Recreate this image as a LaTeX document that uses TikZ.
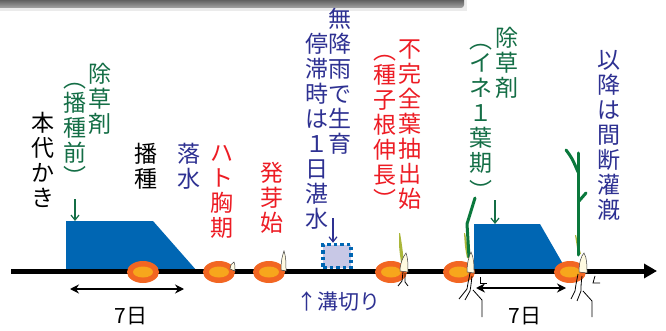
\documentclass[tikz,border=0pt]{standalone}
\usepackage{fontspec}
\usetikzlibrary{arrows.meta}
\newfontfamily\jpfont{Noto Sans CJK JP}

\definecolor{riceblue}{RGB}{0,102,179}
\definecolor{txtgreen}{RGB}{20,110,70}
\definecolor{txtnavy}{RGB}{46,49,146}
\definecolor{txtred}{RGB}{237,28,36}
\definecolor{seedout}{RGB}{242,102,34}
\definecolor{seedin}{RGB}{247,166,28}
\definecolor{leafgreen}{RGB}{10,120,60}
\definecolor{leafolive}{RGB}{170,182,58}
\definecolor{sheath}{RGB}{255,250,225}
\definecolor{pondfill}{RGB}{200,200,230}

\tikzset{
  vtext/.style={inner sep=0pt, align=center, anchor=north,
    font={\jpfont\fontsize{23}{25}\selectfont}},
  vparen/.style={inner sep=0pt, font={\jpfont\fontsize{23}{25}\selectfont}},
  htext/.style={inner sep=0pt, font={\jpfont\fontsize{21}{24}\selectfont}},
  pointer/.style={line width=1.2pt, -{Straight Barb[length=5pt,width=8pt]}},
  span/.style={line width=2.5pt, {Stealth[length=9pt,width=9pt]}-{Stealth[length=9pt,width=9pt]}},
  flood/.style={fill=riceblue},
  sheathsty/.style={fill=sheath, draw=black!75, line width=0.5pt},
  olive/.style={fill=leafolive},
  leaf/.style={draw=leafgreen, line width=3pt, line cap=round, line join=round},
  root/.style={draw=black, line width=0.8pt},
}

\newcommand{\seed}[2]{%
  \fill[seedout] (#1,#2) ellipse [x radius=16, y radius=11];
  \fill[seedin] (#1,#2) ellipse [x radius=10, y radius=5.5];
}

\begin{document}
\begin{tikzpicture}[x=1pt,y=-1pt]
\useasboundingbox (0,0) rectangle (666,331);
\fill[white] (0,0) rectangle (666,331);

% header strip
\fill[black!8] (0,0) rectangle (467,11);
\shade[top color=black!62, bottom color=black!35] (0,0) -- (464,0) -- (464,5) arc[start angle=0, end angle=90, radius=3] -- (461,8) -- (0,8) -- cycle;

% flooded periods
\fill[flood] (66,221) -- (153,221) -- (197,271) -- (66,271) -- cycle;
\fill[flood] (474,224) -- (540,224) -- (567,271) -- (474,271) -- cycle;

% time axis
\coordinate (tl-start) at (11,271);
\coordinate (tl-end) at (657,271);
\draw[line width=5pt, -{Triangle[length=13pt,width=14pt]}] (tl-start) -- (tl-end);

% temporary flooding pond
\node[draw=riceblue, fill=pondfill, line width=3.5pt, dash pattern=on 3.5pt off 3pt,
      minimum width=28pt, minimum height=23pt, inner sep=0pt] (pond) at (337,256) {};

% seeds
\seed{143}{272}
\seed{219}{272}
\seed{269}{272}
\seed{391}{272}
\seed{459}{272}
\seed{570}{272}

% sprout tips
\filldraw[sheathsty] (230,269) .. controls (231,264) .. (234,262) .. controls (235,265) .. (235,271) -- cycle;
\filldraw[sheathsty] (281,270) .. controls (281,259) and (283,254) .. (284,251) .. controls (286,257) and (286,263) .. (286,271) -- cycle;

% seedling at incomplete leaf stage
\fill[olive] (400,233) .. controls (402,245) .. (404,262) -- (401,262) .. controls (399,248) .. (399,233) -- cycle;
\filldraw[sheathsty] (400,271) .. controls (400,263) and (403,257) .. (406,253) .. controls (408,258) and (408,265) .. (408,272) -- cycle;
\draw[root] (403,272) -- (402,281) -- (398,286);
\draw[root] (405,273) -- (405,282) -- (408,286);

% seedling at first leaf stage
\fill[olive] (465,233) .. controls (468,245) .. (470,258) -- (467,258) .. controls (465,248) .. (464,233) -- cycle;
\draw[leaf] (469,257) .. controls (468,240) .. (467,224) -- (475,198);
\filldraw[sheathsty] (467,272) .. controls (467,263) and (469,256) .. (471,252) .. controls (474,258) and (474,265) .. (474,273) -- cycle;
\draw[root] (470,273) .. controls (468,283) .. (467,289) -- (459,299);
\draw[root] (472,276) .. controls (471,285) .. (470,291) -- (465,300);
\draw[root] (473,290) -- (482,300) -- (482,317);
\draw[root] (480,277) -- (480,283) -- (487,283);

% seedling with developed leaves
\fill[olive] (576,235) .. controls (579,245) .. (581,254) -- (578,254) .. controls (576,245) .. (575,235) -- cycle;
\draw[leaf] (578,255) .. controls (578,210) .. (578,153);
\draw[leaf] (566,150) .. controls (572,158) .. (578,172);
\draw[leaf] (579,201) -- (586,193);
\filldraw[sheathsty] (579,272) .. controls (579,263) and (581,256) .. (584,253) .. controls (587,258) and (587,265) .. (587,273) -- cycle;
\draw[root] (578,274) .. controls (576,284) .. (575,291) -- (571,299);
\draw[root] (582,276) .. controls (581,285) .. (581,291) -- (577,301);
\draw[root] (583,291) -- (592,301) -- (592,317);
\draw[root] (595,276) -- (593,283) -- (600,283);

% labels
\node[vtext, text=black] (honshiro) at (43,112) {本\\代\\か\\き};
\node[vtext, text=txtgreen] (herb1) at (100,63) {除\\草\\剤};
\node[vtext, text=txtgreen] (herb1when) at (75,92) {播\\種\\前};
\node[vparen, text=txtgreen, anchor=south] (herb1open) at (75,89) {︵};
\node[vparen, text=txtgreen, anchor=north] (herb1close) at (75,166) {︶};
\node[vtext, text=black] (sowing) at (146,143) {播\\種};
\node[vtext, text=txtnavy] (drain) at (189,143) {落\\水};
\node[vtext, text=txtred] (pigeon) at (222,145) {ハ\\ト\\胸\\期};
\node[vtext, text=txtred] (germ) at (272,162) {発\\芽\\始};
\node[vtext, text=txtnavy] (norain) at (340,8) {無\\降\\雨\\で\\生\\育};
\node[vtext, text=txtnavy] (stall) at (317,33) {停\\滞\\時\\は\\１\\日\\湛\\水};
\node[vtext, text=txtred] (incomplete) at (410,40) {不\\完\\全\\葉\\抽\\出\\始};
\node[vtext, text=txtred] (radicle) at (385,64) {種\\子\\根\\伸\\長};
\node[vparen, text=txtred, anchor=south] (radicleopen) at (385,61) {︵};
\node[vparen, text=txtred, anchor=north] (radicleclose) at (385,189) {︶};
\node[vtext, text=txtgreen] (herb2) at (507,27) {除\\草\\剤};
\node[vtext, text=txtgreen] (herb2when) at (481,53) {イ\\ネ\\１\\葉\\期};
\node[vparen, text=txtgreen, anchor=south] (herb2open) at (481,50) {︵};
\node[vparen, text=txtgreen, anchor=north] (herb2close) at (481,180) {︶};
\node[vtext, text=txtnavy] (intermit) at (609,50) {以\\降\\は\\間\\断\\灌\\漑};
\node[htext, text=txtnavy] (furrow) at (338,302) {↑溝切り};
\node[htext, text=black] (days1) at (131,316) {7日};
\node[htext, text=black] (days2) at (525,316) {7日};

% pointers
\coordinate (herb1tip) at (75,221);
\coordinate (herb2tip) at (495,224);
\draw[pointer, draw=txtgreen] (75,199) -- (herb1tip);
\draw[pointer, draw=txtgreen] (495,200) -- (herb2tip);
\draw[pointer, draw=txtnavy] (333,218) -- (pond.north -| 333,0);

% seven-day spans
\coordinate (s1a) at (70,289);
\coordinate (s1b) at (184,289);
\coordinate (s2a) at (476,288);
\coordinate (s2b) at (566,288);
\draw[span] (s1a) -- (s1b);
\draw[span] (s2a) -- (s2b);
\end{tikzpicture}
\end{document}
